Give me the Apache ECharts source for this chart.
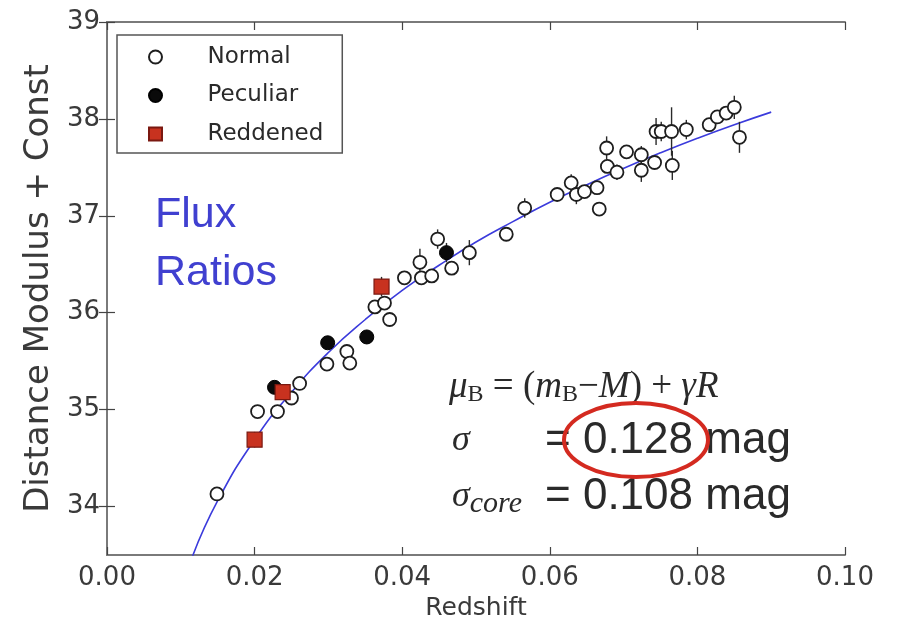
<!DOCTYPE html>
<html>
<head>
<meta charset="utf-8">
<script src="https://cdn.jsdelivr.net/npm/echarts@6/dist/echarts.min.js"></script>
<style>html,body{margin:0;padding:0;background:#fff;}#c{width:899px;height:633px;}</style>
</head>
<body>
<div id="c"></div>
<script>
// ---- data ----
const normalZ   = [0.0149,0.0204,0.0231,0.0250,0.0261,0.0298,0.0325,0.0329,0.0363,0.0376,0.0383,0.0403,0.0424,0.0426,0.0440,0.0448,0.0467,0.0491,0.0541,0.0566,0.0610,0.0629,0.0636,0.0647,0.0664,0.0667,0.0677,0.0678,0.0691,0.0704,0.0724,0.0724,0.0742,0.0744,0.0751,0.0765,0.0766,0.0785,0.0816,0.0827,0.0839,0.0850,0.0857];
const normalMu  = [34.13,34.98,34.98,35.12,35.27,35.47,35.60,35.48,36.06,36.10,35.93,36.36,36.52,36.36,36.38,36.76,36.46,36.62,36.81,37.08,37.22,37.34,37.22,37.25,37.29,37.07,37.70,37.51,37.45,37.66,37.63,37.47,37.55,37.87,37.87,37.87,37.52,37.89,37.94,38.02,38.06,38.12,37.81];
const normalErr = [0.06,0.05,0.04,0.04,0.04,0.04,0.04,0.04,0.04,0.04,0.04,0.05,0.14,0.06,0.05,0.10,0.05,0.13,0.04,0.10,0.05,0.09,0.10,0.05,0.05,0.04,0.12,0.06,0.08,0.06,0.09,0.12,0.06,0.14,0.10,0.25,0.15,0.10,0.05,0.05,0.06,0.12,0.16];
const peculiarZ   = [0.0227,0.0299,0.0352,0.0460];
const peculiarMu  = [35.23,35.69,35.75,36.62];
const peculiarErr = [0.06,0.04,0.04,0.10];
const reddenedZ   = [0.0200,0.0238,0.0372];
const reddenedMu  = [34.69,35.18,36.27];
const reddenedErr = [0.08,0.06,0.10];
const fitZ  = [0.0116,0.015,0.02,0.025,0.03,0.035,0.04,0.045,0.05,0.055,0.06,0.065,0.07,0.075,0.08,0.085,0.09];
const fitMu = [33.49,34.06,34.69,35.18,35.59,35.93,36.23,36.49,36.73,36.94,37.14,37.32,37.49,37.65,37.80,37.94,38.07];
const yTicks = [34,35,36,37,38,39];
const seriesNames = ['Normal','Peculiar','Reddened'];

const pts = (zs, ms) => zs.map((z,i)=>[z, ms[i]]);
const errPts = [].concat(
  normalZ.map((z,i)=>[z, normalMu[i], normalErr[i]]),
  peculiarZ.map((z,i)=>[z, peculiarMu[i], peculiarErr[i]]),
  reddenedZ.map((z,i)=>[z, reddenedMu[i], reddenedErr[i]])
);

const chart = echarts.init(document.getElementById('c'));
const axisCol = '#7a7a7a';
const tickFont = {fontFamily:'DejaVu Sans', fontSize:26, color:'#3a3a3a'};
const squareIcon = 'path://M0,0L10,0L10,10L0,10Z';
chart.setOption({
  backgroundColor:'#ffffff',
  animation:false,
  grid:{left:107, right:54, top:22, bottom:78},
  legend:{
    data:[{name:seriesNames[0], icon:'circle'},{name:seriesNames[1], icon:'circle'},{name:seriesNames[2], icon:squareIcon}],
    orient:'vertical', left:117, top:35,
    padding:[10,19,7,31], itemGap:14.5, itemWidth:28, itemHeight:13, symbolKeepAspect:true,
    borderColor:'#555', borderWidth:1.5, backgroundColor:'#fff',
    textStyle:{fontFamily:'DejaVu Sans', fontSize:23, color:'#2a2a2a', lineHeight:24, padding:[0,0,0,33]}
  },
  xAxis:[{
    type:'value', min:0, max:0.1, interval:0.02,
    name:'Redshift', nameLocation:'middle', nameGap:38,
    nameTextStyle:{fontFamily:'DejaVu Sans', fontSize:25, color:'#3a3a3a'},
    axisLine:{show:true, lineStyle:{color:axisCol, width:2}},
    axisTick:{show:true, inside:true, length:8, lineStyle:{color:'#444', width:1.2}},
    axisLabel:Object.assign({margin:10, formatter:v=>v.toFixed(2)}, tickFont),
    splitLine:{show:false}
  },{
    type:'value', position:'top', min:0, max:0.1, interval:0.02,
    axisLine:{show:true, lineStyle:{color:axisCol, width:2}},
    axisTick:{show:true, inside:true, length:8, lineStyle:{color:'#444', width:1.2}},
    axisLabel:{show:false}, splitLine:{show:false}
  }],
  yAxis:[{
    type:'value', min:33.5, max:39,
    name:'Distance Modulus + Const', nameLocation:'middle', nameGap:50,
    nameTextStyle:{fontFamily:'DejaVu Sans', fontSize:34, color:'#3a3a3a'},
    axisLine:{show:true, lineStyle:{color:axisCol, width:2}},
    axisTick:{show:true, inside:true, length:8, customValues:yTicks, lineStyle:{color:'#444', width:1.2}},
    axisLabel:Object.assign({margin:7, customValues:yTicks}, tickFont),
    splitLine:{show:false}
  },{
    type:'value', position:'right', min:33.5, max:39,
    axisLine:{show:true, lineStyle:{color:axisCol, width:2}},
    axisTick:{show:true, inside:true, length:8, customValues:yTicks, lineStyle:{color:'#444', width:1.2}},
    axisLabel:{show:false, customValues:yTicks}, splitLine:{show:false}
  }],
  series:[
    {type:'line', name:'fit', data:pts(fitZ, fitMu), smooth:true, symbol:'none',
     lineStyle:{color:'#3b3bdc', width:1.6}, z:1, silent:true},
    {type:'custom', name:'err', data:errPts, encode:{x:0,y:1}, z:2, silent:true,
     renderItem:(params, api)=>{
       const z=api.value(0), m=api.value(1), e=api.value(2);
       const a=api.coord([z,m-e]), b=api.coord([z,m+e]);
       return {type:'line', shape:{x1:a[0],y1:a[1],x2:b[0],y2:b[1]}, style:{stroke:'#2a2a2a', lineWidth:1.4}};
     }},
    {type:'scatter', name:seriesNames[0], data:pts(normalZ, normalMu), symbol:'circle', symbolSize:13, z:3,
     itemStyle:{color:'#ffffff', borderColor:'#1e1e1e', borderWidth:1.8, opacity:1}},
    {type:'scatter', name:seriesNames[1], data:pts(peculiarZ, peculiarMu), symbol:'circle', symbolSize:14, z:4,
     itemStyle:{color:'#0a0a0a', borderColor:'#000', borderWidth:1, opacity:1}},
    {type:'scatter', name:seriesNames[2], data:pts(reddenedZ, reddenedMu), symbol:'rect', symbolSize:15, z:5,
     itemStyle:{color:'#c8321f', borderColor:'#7a1810', borderWidth:1.2, opacity:1}}
  ],
  graphic:[
    {type:'text', x:155, y:215, z:10, style:{text:'Flux', fontFamily:'Liberation Sans', fontSize:43, fill:'#4040d0', verticalAlign:'middle'}},
    {type:'text', x:155, y:273, z:10, style:{text:'Ratios', fontFamily:'Liberation Sans', fontSize:43, fill:'#4040d0', verticalAlign:'middle'}},
    {type:'text', x:449, y:387, z:10, style:{
      text:'{i|μ}{s|B}{r| = (}{i|m}{s|B}{r|−}{i|M}{r|) + }{i|γR}',
      verticalAlign:'middle',
      rich:{
        i:{fontFamily:'Liberation Serif', fontStyle:'italic', fontSize:37, fill:'#2a2a2a', lineHeight:42},
        r:{fontFamily:'Liberation Serif', fontSize:37, fill:'#2a2a2a', lineHeight:42},
        s:{fontFamily:'Liberation Serif', fontSize:24, fill:'#2a2a2a', lineHeight:42, padding:[15,0,0,0]}
      }}},
    {type:'text', x:452, y:441, z:10, style:{text:'σ', fontFamily:'Liberation Serif', fontStyle:'italic', fontSize:36, fill:'#2a2a2a', verticalAlign:'middle'}},
    {type:'text', x:545, y:441, z:10, style:{text:'= 0.128 mag', fontFamily:'Liberation Sans', fontSize:44, fill:'#2a2a2a', verticalAlign:'middle'}},
    {type:'text', x:452, y:497, z:10, style:{
      text:'{i|σ}{s|core}', verticalAlign:'middle',
      rich:{
        i:{fontFamily:'Liberation Serif', fontStyle:'italic', fontSize:36, fill:'#2a2a2a', lineHeight:42},
        s:{fontFamily:'Liberation Serif', fontStyle:'italic', fontSize:30, fill:'#2a2a2a', lineHeight:42, padding:[14,0,0,0]}
      }}},
    {type:'text', x:545, y:497, z:10, style:{text:'= 0.108 mag', fontFamily:'Liberation Sans', fontSize:44, fill:'#2a2a2a', verticalAlign:'middle'}},
    {type:'ellipse', z:11, shape:{cx:636, cy:440, rx:72, ry:37}, style:{fill:'none', stroke:'#d42a20', lineWidth:4}}
  ]
});
</script>
</body>
</html>
